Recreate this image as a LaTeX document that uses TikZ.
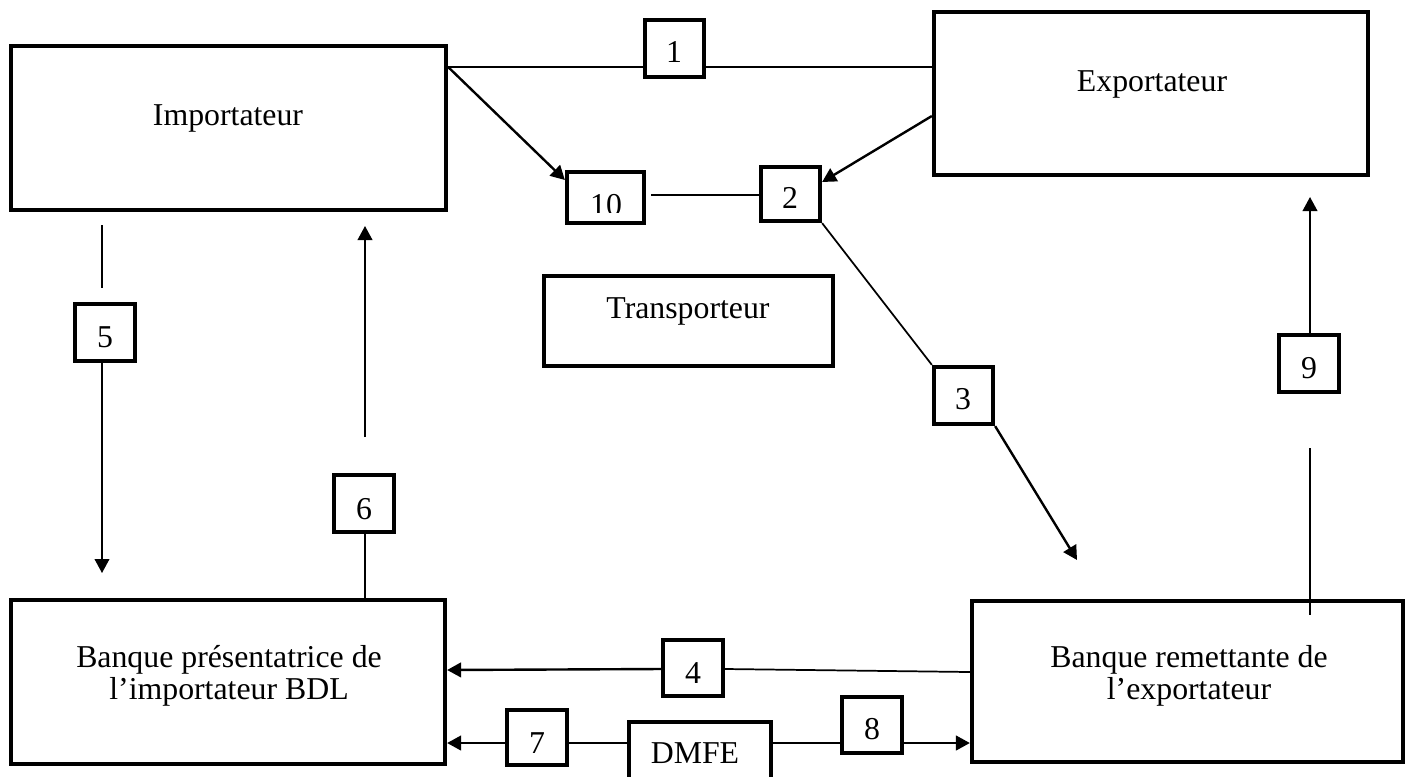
\documentclass[tikz,border=0pt]{standalone}
\usepackage{fontspec}
\setmainfont{Liberation Serif}
\usetikzlibrary{arrows.meta,calc}
\newdimen\pxu
\pxu=0.75pt
\begin{document}
\begin{tikzpicture}[x=0.75pt,y=-0.75pt,
  frame/.style={draw, rectangle, line width=3.2pt, outer sep=1.6pt, inner sep=0pt},
  tag/.style={frame, minimum width=60\pxu, minimum height=57\pxu},
  lbl/.style={font=\fontsize{23.85}{25}\selectfont, anchor=base, inner sep=0pt, outer sep=0pt},
  link/.style={line width=1.3pt},
  flow/.style={line width=1.8pt, -{Triangle[length=10.5pt,width=11pt]}},
  flowthin/.style={line width=1.3pt, -{Triangle[length=10.5pt,width=11pt]}}]

\clip (0,0) rectangle (1413,776);
\fill[white] (0,0) rectangle (1413,776);

% main parties
\node[frame, minimum width=435\pxu, minimum height=164\pxu] (imp) at (228.5,128) {};
\node[frame, minimum width=434\pxu, minimum height=163\pxu] (exp) at (1151,93.5) {};
\node[frame, minimum width=289\pxu, minimum height=90\pxu] (tr) at (688.5,321) {};
\node[frame, minimum width=434\pxu, minimum height=164\pxu] (pre) at (228,682) {};
\node[frame, minimum width=431\pxu, minimum height=161\pxu] (rem) at (1187.5,681.5) {};
\node[frame, minimum width=142\pxu, minimum height=66\pxu] (dmfe) at (700,755) {};

\node[lbl] (timp) at (228,125) {Importateur};
\node[lbl] (texp) at (1152,91) {Exportateur};
\node[lbl] (ttr) at (688,318) {Transporteur};
\node[lbl] (tpre1) at (229,667) {Banque présentatrice de};
\node[lbl] (tpre2) at (229,699) {l’importateur BDL};
\node[lbl] (trem1) at (1189,667) {Banque remettante de};
\node[lbl] (trem2) at (1189,699) {l’exportateur};
\node[lbl] (tdmfe) at (695,763) {DMFE};

% numbered steps
\node[tag, minimum width=59\pxu] (b1) at (674.5,48.5) {};
\node[tag, minimum width=59\pxu, minimum height=54\pxu] (b2) at (790.5,194) {};
\node[tag, minimum width=59\pxu] (b3) at (963.5,395.5) {};
\node[tag, minimum height=56\pxu] (b4) at (693,668) {};
\node[tag] (b5) at (105,332.5) {};
\node[tag] (b6) at (364,503.5) {};
\node[tag, minimum height=55\pxu] (b7) at (537,737.5) {};
\node[tag, minimum height=56\pxu] (b8) at (872,725) {};
\node[tag] (b9) at (1309,363.5) {};
\node[tag, minimum width=77\pxu, minimum height=51\pxu] (b10) at (605.5,197.5) {};

\node[lbl] (n1) at (674,62) {1};
\node[lbl] (n2) at (790,208) {2};
\node[lbl] (n3) at (963,409) {3};
\node[lbl] (n4) at (693,683) {4};
\node[lbl] (n5) at (105,347) {5};
\node[lbl] (n6) at (364,519) {6};
\node[lbl] (n7) at (537,753) {7};
\node[lbl] (n8) at (872,739) {8};
\node[lbl] (n9) at (1309,378) {9};
\begin{scope}
  \clip (b10.north west) rectangle ($(b10.south east)+(0,-13)$);
  \node[lbl] (n10) at (606,215) {10};
\end{scope}

% connectors
\draw[link] (imp.east |- 0,67) -- (b1.west |- 0,67);
\draw[link] (b1.east |- 0,67) -- (exp.west |- 0,67);
\draw[flow] (imp.east |- 0,67) -- (b10.west |- 0,180);
\draw[flow] (exp.west |- 0,116) -- (b2.east |- 0,182);
\draw[link] ($(b10.east |- 0,195)+(5,0)$) -- (b2.west |- 0,195);
\draw[link] (b2.south east) -- (b3.north west);
\coordinate (t3) at (1077,560);
\draw[flow] (b3.south east) -- (t3);

\coordinate (t9) at (1310,197);
\draw[flowthin] (b9.north -| t9) -- (t9);
\coordinate (s9) at (1310,448);
\draw[link] (s9) -- ($(rem.north -| s9)+(0,16)$);

\coordinate (s5) at (102,225);
\coordinate (e5) at (102,288);
\draw[link] (s5) -- (e5);
\coordinate (t5) at (102,573);
\draw[flowthin] (b5.south -| t5) -- (t5);

\coordinate (s6) at (365,437);
\coordinate (t6) at (365,226);
\draw[flowthin] (s6) -- (t6);
\draw[link] (b6.south -| s6) -- (pre.north -| s6);

\draw[flow] (b4.west |- 0,669) -- (pre.east |- 0,670);
\draw[link] (b4.east |- 0,669) -- (rem.west |- 0,672);
\draw[flow] (b7.west |- 0,743) -- (pre.east |- 0,743);
\draw[link] (b7.east |- 0,743) -- (dmfe.west |- 0,743);
\draw[link] (dmfe.east |- 0,743) -- (b8.west |- 0,743);
\draw[flow] (b8.east |- 0,743) -- (rem.west |- 0,743);
\end{tikzpicture}
\end{document}
